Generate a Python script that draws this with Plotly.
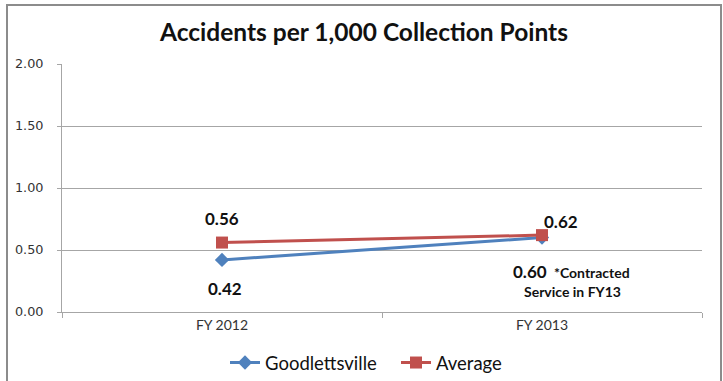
import plotly.graph_objects as go

categories = ["FY 2012", "FY 2013"]
goodlettsville = [0.42, 0.60]
average = [0.56, 0.62]
y_ticks = [0.0, 0.5, 1.0, 1.5, 2.0]
title_text = "Accidents per 1,000 Collection Points"
note_line1 = "*Contracted"
note_line2 = "Service in FY13"

BLUE = "#4F81BD"
RED = "#C0504D"
FONT = "Lato"

fig = go.Figure()
fig.add_trace(go.Scatter(
    x=categories, y=goodlettsville, name="Goodlettsville",
    mode="lines+markers",
    line=dict(color=BLUE, width=3),
    marker=dict(symbol="diamond", size=11, color=BLUE),
))
fig.add_trace(go.Scatter(
    x=categories, y=average, name="Average",
    mode="lines+markers",
    line=dict(color=RED, width=3),
    marker=dict(symbol="square", size=12, color=RED),
))

lab_font = dict(family=FONT, size=17, color="#111111")
note_font = dict(family=FONT, size=14, color="#111111")
# data labels
fig.add_annotation(x=categories[0], y=average[0], text=f"<b>{average[0]:.2f}</b>",
                   showarrow=False, yshift=24, xshift=0, font=lab_font)
fig.add_annotation(x=categories[0], y=goodlettsville[0], text=f"<b>{goodlettsville[0]:.2f}</b>",
                   showarrow=False, yshift=-29, xshift=3, font=lab_font)
fig.add_annotation(x=categories[1], y=average[1], text=f"<b>{average[1]:.2f}</b>",
                   showarrow=False, yshift=14, xshift=19, font=lab_font)
fig.add_annotation(x=categories[1], y=goodlettsville[1], text=f"<b>{goodlettsville[1]:.2f}</b>",
                   showarrow=False, yshift=-34, xshift=-12, font=lab_font)
fig.add_annotation(x=categories[1], y=goodlettsville[1], text=f"<b>{note_line1}</b>",
                   showarrow=False, yshift=-35, xshift=50, font=note_font)
fig.add_annotation(x=categories[1], y=goodlettsville[1], text=f"<b>{note_line2}</b>",
                   showarrow=False, yshift=-54, xshift=30, font=note_font)

# outer chart frame
fig.add_shape(type="rect", xref="paper", yref="paper",
              x0=(7 - 62) / 640, x1=(721 - 62) / 640,
              y0=(312 - 400) / 248, y1=(312 - 5) / 248,
              line=dict(color="#8C8C8C", width=2), fillcolor="rgba(0,0,0,0)",
              layer="below")

fig.update_layout(
    width=723, height=381,
    margin=dict(l=62, r=21, t=64, b=69, autoexpand=False),
    paper_bgcolor="white", plot_bgcolor="white",
    title=dict(text=f"<b>{title_text}</b>", x=364 / 723, xref="container", xanchor="center",
               y=1 - 32 / 381, yanchor="middle",
               font=dict(family=FONT, size=24.5, color="#111111")),
    showlegend=True,
    legend=dict(orientation="h", x=(225 - 62) / 640, xanchor="left",
                y=(312 - 363) / 248, yanchor="middle",
                entrywidth=126, entrywidthmode="pixels",
                font=dict(family=FONT, size=18.5, color="#111111"),
                traceorder="normal"),
    xaxis=dict(
        type="category", range=[-0.5, 1.5],
        showgrid=False, showline=True, linecolor="#A6A6A6", linewidth=1,
        ticks="outside", tickson="boundaries", ticklen=5, tickcolor="#A6A6A6",
        tickfont=dict(family=FONT, size=14, color="#333333"),
        zeroline=False,
    ),
    yaxis=dict(
        range=[0, 2.0], tickvals=y_ticks, tickformat=".2f",
        showgrid=True, gridcolor="#A6A6A6", gridwidth=1,
        showline=True, linecolor="#A6A6A6", linewidth=1,
        ticks="outside", ticklen=4, tickcolor="#A6A6A6",
        tickfont=dict(family="DejaVu Sans", size=12.8, color="#333333"),
        zeroline=False, ticklabelstandoff=11,
    ),
)

fig.write_html("out.html", config={"displayModeBar": False},
               post_script="document.body.style.margin='0';")
